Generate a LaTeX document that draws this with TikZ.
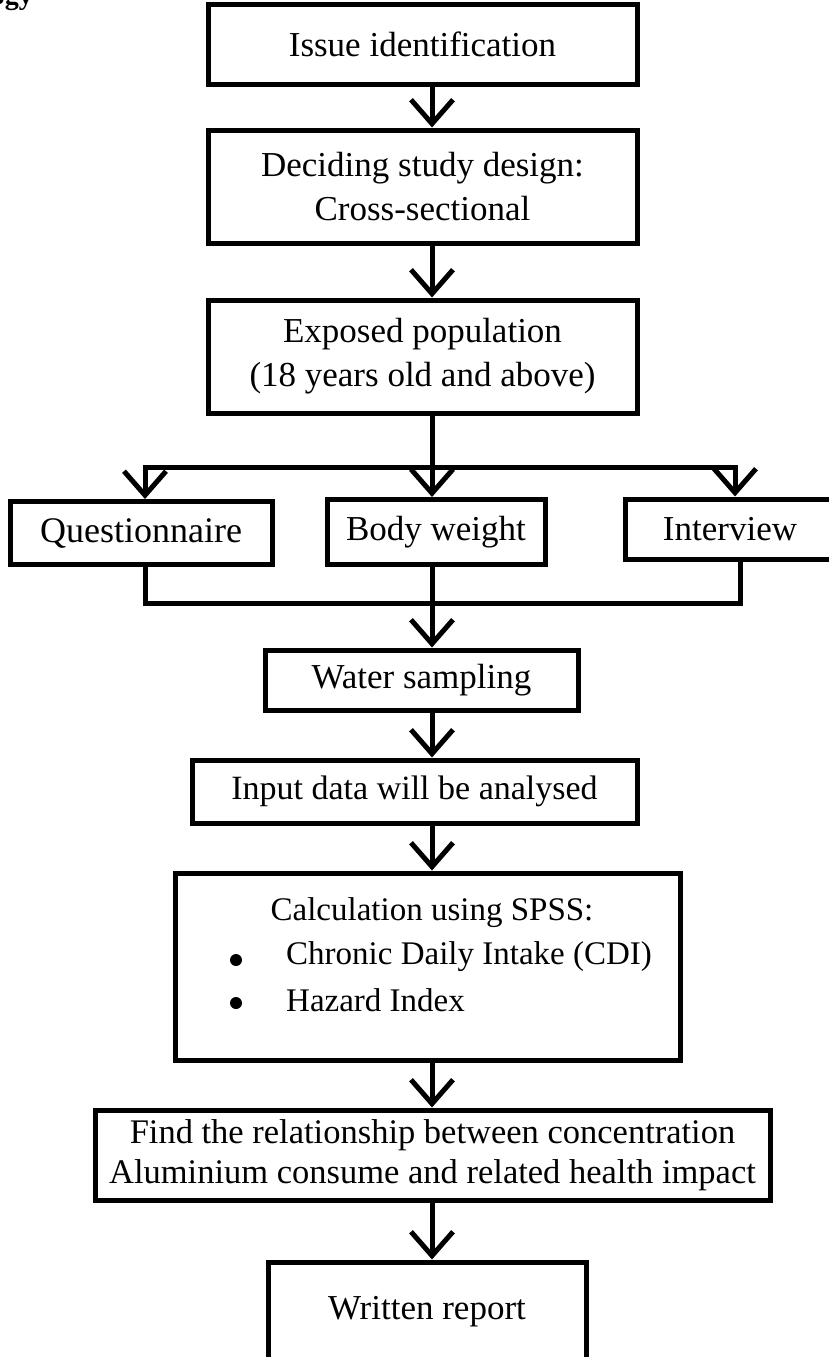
\documentclass[tikz,border=0pt]{standalone}
\usepackage{fontspec}
\setmainfont{Liberation Serif}
\usetikzlibrary{arrows.meta}
\begin{document}
\begin{tikzpicture}[x=1pt,y=-1pt,
  box/.style={draw, line width=5pt, inner sep=0pt, align=center,
    font=\fontsize{35}{44}\selectfont},
  txt/.style={inner sep=0pt, font=\fontsize{33}{42}\selectfont},
  dot/.style={circle, fill, inner sep=0pt, minimum size=12pt},
  flow/.style={line width=5pt, -{Straight Barb[length=24pt,width=42pt,line width=5pt]}},
  link/.style={line width=5pt, line cap=rect}]
\useasboundingbox (0,0) rectangle (828,1357);
\node[inner sep=0pt, anchor=base east, font=\bfseries\fontsize{28}{30}\selectfont] (head) at (33,5) {ogy};
\coordinate (col) at (432,0);
\node[box, minimum width=429pt, minimum height=80pt] (b1) at (422.5,44) {Issue identification};
\node[box, minimum width=429pt, minimum height=113pt] (b2) at (422.5,186.5) {Deciding study design:\\Cross-sectional};
\node[box, minimum width=429pt, minimum height=113pt] (b3) at (422.5,356.5) {Exposed population\\(18 years old and above)};
\node[box, minimum width=262pt, minimum height=63pt, font=\fontsize{36}{44}\selectfont] (q) at (141,533) {Questionnaire};
\node[box, minimum width=218pt, minimum height=65pt] (bw) at (436,532) {Body weight};
\node[box, minimum width=210pt, minimum height=60pt] (iv) at (730,529) {Interview};
\node[box, minimum width=313pt, minimum height=60pt] (ws) at (421.5,680) {Water sampling};
\node[box, minimum width=445pt, minimum height=63pt, font=\fontsize{34}{44}\selectfont] (in) at (414.5,791.5) {Input data will be analysed};
\node[box, minimum width=505pt, minimum height=187pt] (calc) at (427.5,966.5) {};
\node[txt] (ct) at (432,913) {Calculation using SPSS:};
\node[dot] (d1) at (236,960) {};
\node[txt, anchor=west] (c1) at (286,957) {Chronic Daily Intake (CDI)};
\node[dot] (d2) at (236,1003) {};
\node[txt, anchor=west] (c2) at (286,1000) {Hazard Index};
\node[box, minimum width=675pt, minimum height=90pt, font=\fontsize{34.5}{40}\selectfont] (find) at (432.5,1155) {Find the relationship between concentration\\Aluminium consume and related health impact};
\node[box, minimum width=318pt, minimum height=100pt] (wr) at (427,1312) {Written report};
\draw[flow] (b1.south -| col) -- (b2.north -| col);
\draw[flow] (b2.south -| col) -- (b3.north -| col);
\coordinate (bl) at (145,467);
\coordinate (bm) at (432,467);
\coordinate (brr) at (735,467);
\draw[link] (b3.south -| bm) -- (bm);
\draw[link] (bl) -- (brr);
\draw[flow] (bl) -- (bl |- q.north);
\draw[flow] (bm) -- (bm |- bw.north);
\draw[flow] (brr) -- (brr |- iv.north);
\coordinate (ml) at (145,603);
\coordinate (mm) at (432,603);
\coordinate (mr) at (740,603);
\draw[link] (q.south -| ml) -- (ml) -- (mr) -- (iv.south -| mr);
\draw[flow] (bw.south -| mm) -- (ws.north -| mm);
\draw[flow] (ws.south -| col) -- (in.north -| col);
\draw[flow] (in.south -| col) -- (calc.north -| col);
\draw[flow] (calc.south -| col) -- (find.north -| col);
\draw[flow] (find.south -| col) -- (wr.north -| col);
\end{tikzpicture}
\end{document}
